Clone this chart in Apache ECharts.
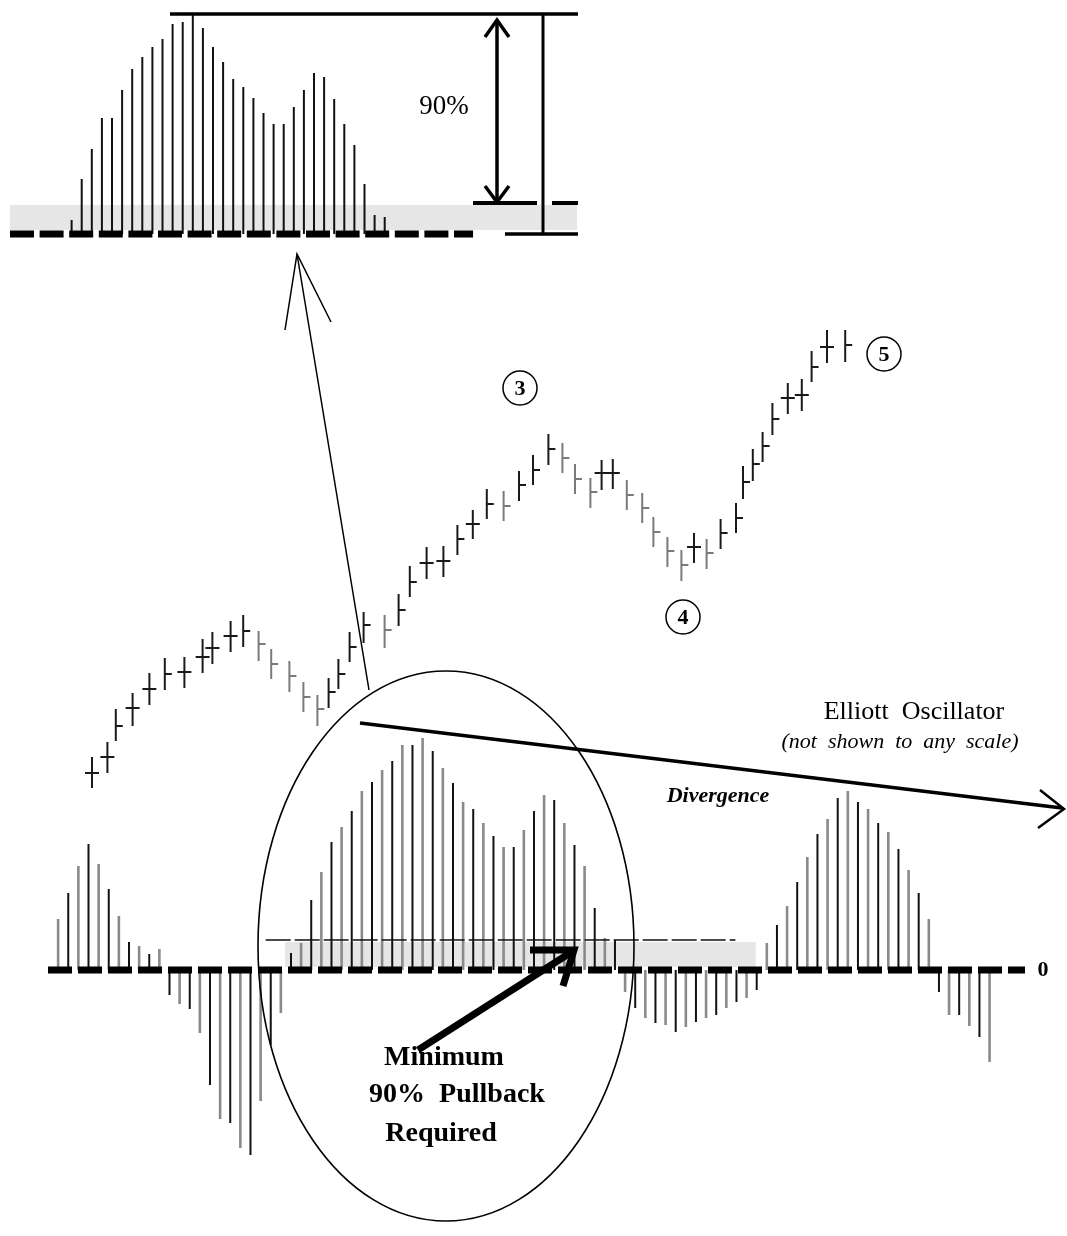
<!DOCTYPE html>
<html>
<head>
<meta charset="utf-8">
<style>
html,body{margin:0;padding:0;background:#fff;}
#chart{width:1067px;height:1236px;}
</style>
<script src="https://cdn.jsdelivr.net/npm/echarts/dist/echarts.min.js"></script>
</head>
<body>
<div id="chart"></div>
<script>
// ---------- DATA ----------
// Price bars (wave 3 -> 4 -> 5): time position, high, low, close, open (null = no open tick)
var priceT = [0,1.1,1.7,2.9,4.1,5.2,6.6,7.9,8.6,9.9,10.8,11.9,12.8,14.1,15.1,16.1,16.9,17.6,18.4,19.4,20.9,21.9,22.7,23.9,25.1,26.1,27.2,28.2,29.4,30.5,31.5,32.6,33.6,34.5,35.6,36.4,37.2,38.2,39.3,40.1,41.1,42.1,43.0,43.9,44.9,46.0,46.5,47.2,47.9,48.6,49.7,50.7,51.4,52.5,53.8];
var priceHigh = [24.3,25.8,29.1,30.7,32.7,34.2,34.3,36.1,36.8,37.9,38.5,36.9,35.1,33.9,31.8,30.5,32.2,34.1,36.8,38.8,38.5,40.6,43.4,45.3,45.4,47.5,49.0,51.1,50.9,52.9,54.5,56.6,55.7,53.6,52.2,54.0,54.1,52.0,50.7,48.3,46.3,45.0,46.7,46.1,48.1,49.7,53.4,55.1,56.8,59.7,61.7,62.1,64.9,67.0,67.0];
var priceLow = [21.2,22.7,25.9,27.4,29.5,31.0,31.2,32.7,33.6,34.8,35.3,33.9,32.1,30.8,28.8,27.4,29.2,31.1,33.8,35.7,35.2,37.4,40.3,42.1,42.3,44.5,46.1,48.1,47.9,49.9,51.5,53.5,52.7,50.6,49.2,51.0,51.1,49.0,47.7,45.3,43.3,41.9,43.7,43.1,45.1,46.7,50.1,51.9,53.8,56.5,58.6,58.9,61.8,63.7,63.8];
var priceClose = [22.7,24.3,27.4,29.2,31.1,32.6,32.8,34.3,35.2,36.4,36.9,35.6,33.6,32.4,30.3,29.1,30.8,32.6,35.3,37.5,37.0,39.0,41.8,43.7,43.9,46.1,47.6,49.6,49.4,51.5,53.0,55.1,54.2,52.1,50.8,52.7,52.7,50.5,49.2,46.8,44.9,43.5,45.3,44.7,46.7,48.2,51.8,53.6,55.4,58.1,60.2,60.5,63.3,65.3,65.5];
var priceOpen = [22.7,24.3,null,29.2,31.1,null,32.8,34.3,35.2,36.4,null,null,null,null,null,null,null,null,null,null,null,null,null,43.7,43.9,null,47.6,null,null,null,null,null,null,null,null,52.7,52.7,null,null,null,null,null,45.3,null,null,null,null,null,null,null,60.2,60.5,null,65.3,null];

// Elliott Oscillator histogram (one value per bar, not to scale)
var oscValues = [51,77,104,126,106,81,54,28,24,16,21,-25,-34,-39,-63,-115,-149,-153,-178,-185,-131,-75,-43,17,27,70,98,128,143,159,179,188,200,209,225,225,232,219,202,187,168,161,147,134,123,123,140,159,175,170,147,125,104,62,32,30,-22,-38,-48,-53,-55,-62,-57,-52,-48,-45,-38,-32,-28,-20,27,45,64,88,113,136,151,172,179,168,161,147,138,121,100,77,51,-22,-45,-45,-56,-67,-92];

// Inset: enlarged view of the circled oscillator peak
var insetValues = [14,55,85,116,116,144,165,177,187,195,210,212,220,206,187,172,155,147,136,121,110,110,127,144,161,157,135,110,89,50,19,17];

// Reference levels
var oscPullbackLevel = 30;          // 10% of the peak -> 90% pullback line
var oscPullbackSpan = [20.5, 66.9]; // extent of the dashed pullback line (bar index)
var oscBandSpan = [22.4, 68.9];     // shaded pullback zone (bar index)
var oscBandTop = 28;
var insetBandRange = [4, 29];
var insetZeroSpan = [-6.1, 39.75];

// ---------- CHART ----------
var chart = echarts.init(document.getElementById('chart'), null, {renderer: 'canvas'});

var priceRows = priceT.map(function (t, i) {
  return [t, priceHigh[i], priceLow[i], priceClose[i], priceOpen[i] == null ? '-' : priceOpen[i]];
});
var oscRows = oscValues.map(function (v, i) { return [i, v]; });
var insetRows = insetValues.map(function (v, i) { return [i, v]; });

function priceItem(params, api) {
  var i = params.dataIndex;
  var t = api.value(0), h = api.value(1), l = api.value(2), c = api.value(3), o = api.value(4);
  var top = api.coord([t, h]), bot = api.coord([t, l]), cc = api.coord([t, c]);
  var down = i > 0 && priceClose[i] < priceClose[i - 1];
  var col = down ? '#7a7a7a' : '#1a1a1a';
  var st = {stroke: col, lineWidth: 2};
  var ch = [
    {type: 'line', shape: {x1: top[0], y1: top[1], x2: bot[0], y2: bot[1]}, style: st},
    {type: 'line', shape: {x1: cc[0], y1: cc[1], x2: cc[0] + 7, y2: cc[1]}, style: st}
  ];
  if (o != null && !isNaN(o)) {
    var oc = api.coord([t, o]);
    ch.push({type: 'line', shape: {x1: oc[0] - 7, y1: oc[1], x2: oc[0], y2: oc[1]}, style: st});
  }
  return {type: 'group', children: ch};
}

function histItem(params, api) {
  var i = api.value(0), v = api.value(1);
  var p0 = api.coord([i, 0]), p1 = api.coord([i, v]);
  var gray = params.dataIndex % 2 === 0;
  return {
    type: 'line',
    shape: {x1: p0[0], y1: p0[1], x2: p1[0], y2: p1[1]},
    style: {stroke: gray ? '#8a8a8a' : '#111', lineWidth: gray ? 2.6 : 2}
  };
}

var serif = '"Liberation Serif", "DejaVu Serif", serif';
function txt(text, x, y, size, weight, style) {
  return {
    type: 'text', z: 100,
    style: {
      text: text, x: x, y: y, align: 'center', verticalAlign: 'middle',
      textAlign: 'center', textVerticalAlign: 'middle',
      fontSize: size, fontFamily: serif, fontWeight: weight || 'normal', fontStyle: style || 'normal',
      fill: '#000'
    }
  };
}
function seg(x1, y1, x2, y2, w) {
  return {type: 'line', z: 100, shape: {x1: x1, y1: y1, x2: x2, y2: y2}, style: {stroke: '#000', lineWidth: w, lineCap: 'butt'}};
}
function poly(pts, w) {
  return {type: 'polyline', z: 100, shape: {points: pts}, style: {stroke: '#000', lineWidth: w, fill: null, lineJoin: 'miter'}};
}
function circ(cx, cy, r) {
  return {type: 'circle', z: 100, shape: {cx: cx, cy: cy, r: r}, style: {stroke: '#000', lineWidth: 1.5, fill: 'none'}};
}

var option = {
  backgroundColor: '#fff',
  animation: false,
  grid: [
    {left: 78, top: 300, width: 784, height: 500},   // price
    {left: 48, top: 700, width: 977, height: 500},   // oscillator
    {left: 10, top: 0, width: 567, height: 250}      // inset
  ],
  xAxis: [
    {type: 'value', gridIndex: 0, min: -1, max: 55, show: false},
    {type: 'value', gridIndex: 1, min: -1, max: 95.5, show: false},
    {type: 'value', gridIndex: 2, min: -6.1, max: 50.04, show: false}
  ],
  yAxis: [
    {type: 'value', gridIndex: 0, min: 20, max: 70, show: false},
    {type: 'value', gridIndex: 1, min: -230, max: 270, show: false},
    {type: 'value', gridIndex: 2, min: -16, max: 234, show: false}
  ],
  series: [
    // price bars
    {type: 'custom', xAxisIndex: 0, yAxisIndex: 0, renderItem: priceItem, data: priceRows, z: 5, silent: true},
    // oscillator shaded pullback band
    {
      type: 'line', xAxisIndex: 1, yAxisIndex: 1, data: [], z: 1, silent: true,
      markArea: {silent: true, itemStyle: {color: '#e6e6e6'},
        data: [[{coord: [oscBandSpan[0], 3]}, {coord: [oscBandSpan[1], oscBandTop]}]]}
    },
    // oscillator bars
    {type: 'custom', xAxisIndex: 1, yAxisIndex: 1, renderItem: histItem, data: oscRows, z: 3, silent: true},
    // zero line
    {
      type: 'line', xAxisIndex: 1, yAxisIndex: 1, z: 6, silent: true, symbol: 'none',
      data: [[-1, 0], [95.5, 0]],
      lineStyle: {color: '#000', width: 7, type: [24, 6], cap: 'butt'}
    },
    // 90% pullback dashed line
    {
      type: 'line', xAxisIndex: 1, yAxisIndex: 1, z: 6, silent: true, symbol: 'none',
      data: [[oscPullbackSpan[0], oscPullbackLevel], [oscPullbackSpan[1], oscPullbackLevel]],
      lineStyle: {color: '#111', width: 1.4, type: [25, 4]}
    },
    // inset band
    {
      type: 'line', xAxisIndex: 2, yAxisIndex: 2, data: [], z: 1, silent: true,
      markArea: {silent: true, itemStyle: {color: '#e6e6e6'},
        data: [[{coord: [-6.1, insetBandRange[0]]}, {coord: [50.04, insetBandRange[1]]}]]}
    },
    // inset bars
    {type: 'custom', xAxisIndex: 2, yAxisIndex: 2, renderItem: function (params, api) {
      var i = api.value(0), v = api.value(1);
      var p0 = api.coord([i, 0]), p1 = api.coord([i, v]);
      return {type: 'line', shape: {x1: p0[0], y1: p0[1], x2: p1[0], y2: p1[1]}, style: {stroke: '#111', lineWidth: 2}};
    }, data: insetRows, z: 3, silent: true},
    // inset zero line
    {
      type: 'line', xAxisIndex: 2, yAxisIndex: 2, z: 6, silent: true, symbol: 'none',
      data: [[insetZeroSpan[0], 0], [insetZeroSpan[1], 0]],
      lineStyle: {color: '#000', width: 7, type: [24, 5.6], cap: 'butt'}
    }
  ],
  graphic: [
    // inset measurement lines
    seg(170, 14, 578, 14, 3.5),
    seg(543, 14, 543, 234, 3),
    seg(473, 203, 537, 203, 4),
    seg(552, 203, 578, 203, 4),
    seg(505, 234, 578, 234, 3.5),
    seg(497, 20, 497, 201, 3.5),
    poly([[485, 37], [497, 20], [509, 37]], 3.5),
    poly([[485, 186], [497, 202], [509, 186]], 3.5),
    txt('90%', 444, 107, 27),
    // thin arrow to inset
    seg(369, 690, 297, 254, 1.5),
    poly([[285, 330], [297, 254], [331, 322]], 1.5),
    // ellipse
    {type: 'ellipse', z: 100, shape: {cx: 446, cy: 946, rx: 188, ry: 275}, style: {stroke: '#000', lineWidth: 1.6, fill: 'none'}},
    // divergence line
    seg(360, 723, 1062, 808, 3.5),
    poly([[1040, 790], [1064, 809], [1038, 828]], 2.5),
    // bold arrow
    seg(418, 1050, 570, 953, 7),
    poly([[530, 950], [574, 950], [563, 986]], 7),
    // wave labels
    circ(520, 388, 17), txt('3', 520, 389, 22, 'bold'),
    circ(683, 617, 17), txt('4', 683, 618, 22, 'bold'),
    circ(884, 354, 17), txt('5', 884, 355, 22, 'bold'),
    // texts
    txt('Elliott  Oscillator', 914, 712, 26),
    txt('(not  shown  to  any  scale)', 900, 742, 22, 'normal', 'italic'),
    txt('Divergence', 718, 796, 22, 'bold', 'italic'),
    txt('0', 1043, 970, 22, 'bold'),
    txt('Minimum', 444, 1058, 28, 'bold'),
    txt('90%  Pullback', 457, 1095, 28, 'bold'),
    txt('Required', 441, 1134, 28, 'bold')
  ]
};
chart.setOption(option);
</script>
</body>
</html>
